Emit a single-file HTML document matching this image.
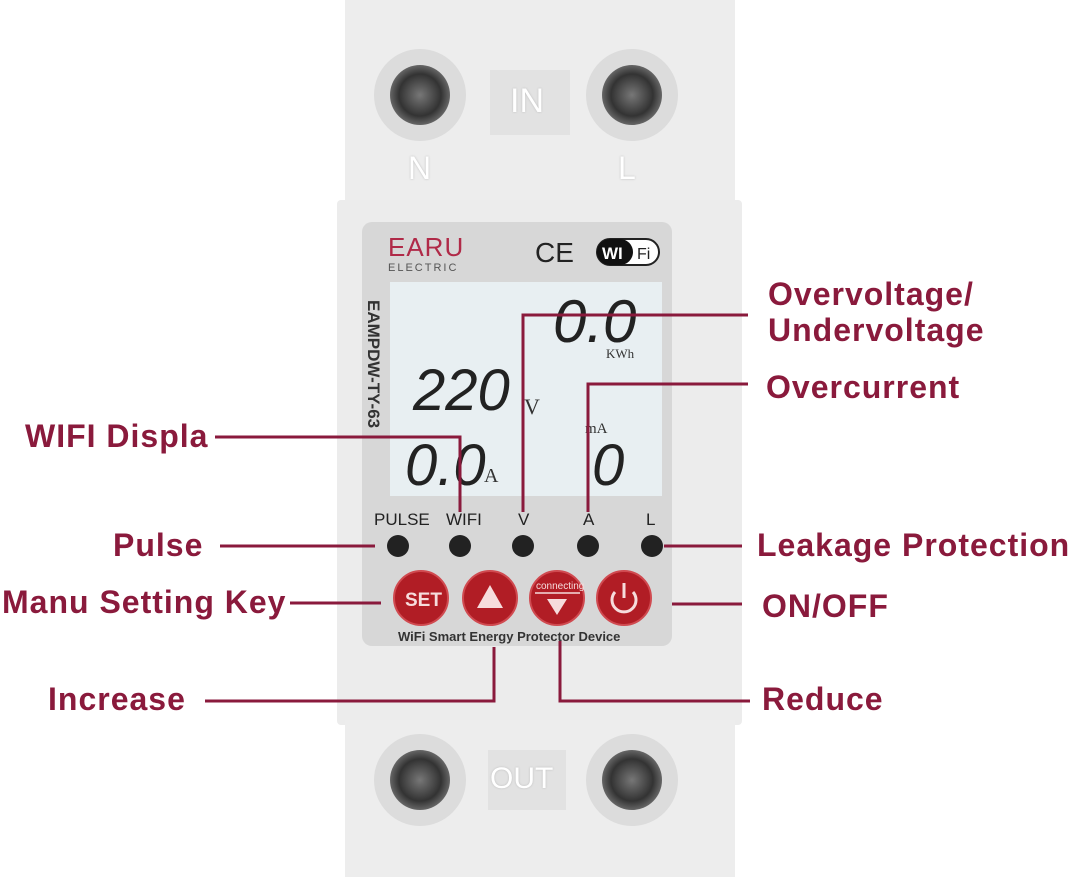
<!DOCTYPE html>
<html><head><meta charset="utf-8"><style>
body{margin:0;width:1080px;height:877px;background:#fff;position:relative;overflow:hidden;font-family:"Liberation Sans",sans-serif}
.a{position:absolute}
.lbl{position:absolute;color:#8a1a3c;font-size:32px;font-weight:bold;letter-spacing:1px;white-space:nowrap}
</style></head><body>
<div class="a" style="left:345px;top:0;width:390px;height:205px;background:#ededed"></div>
<div class="a" style="left:337px;top:200px;width:405px;height:525px;background:#ececec;border-radius:4px"></div>
<div class="a" style="left:345px;top:720px;width:390px;height:157px;background:#ededed"></div>
<div class="a" style="left:490px;top:70px;width:80px;height:65px;background:#e2e2e2"></div>
<div class="a" style="left:510px;top:82px;color:#fff;font-size:34px;text-shadow:0 0 2px #bbb">IN</div>
<div class="a" style="left:408px;top:150px;color:#fff;font-size:32px;text-shadow:0 0 2px #bbb">N</div>
<div class="a" style="left:618px;top:150px;color:#fff;font-size:32px;text-shadow:0 0 2px #bbb">L</div>
<div class="a" style="left:488px;top:750px;width:78px;height:60px;background:#e2e2e2"></div>
<div class="a" style="left:490px;top:762px;color:#fff;font-size:30px;text-shadow:0 0 2px #bbb">OUT</div>
<svg class="a" style="left:0;top:0" width="1080" height="877">
<defs><radialGradient id="sc"><stop offset="0" stop-color="#777"/><stop offset="0.7" stop-color="#333"/><stop offset="1" stop-color="#666"/></radialGradient></defs>
<g>
<circle cx="420" cy="95" r="46" fill="#dcdcdc"/><circle cx="420" cy="95" r="30" fill="url(#sc)"/>
<circle cx="632" cy="95" r="46" fill="#dcdcdc"/><circle cx="632" cy="95" r="30" fill="url(#sc)"/>
<circle cx="420" cy="780" r="46" fill="#dcdcdc"/><circle cx="420" cy="780" r="30" fill="url(#sc)"/>
<circle cx="632" cy="780" r="46" fill="#dcdcdc"/><circle cx="632" cy="780" r="30" fill="url(#sc)"/>
</g>
<rect x="362" y="222" width="310" height="424" rx="10" fill="#d7d7d7"/>
<rect x="390" y="282" width="272" height="214" fill="#e8eff2"/>
<text x="388" y="256" font-size="26" fill="#b02a48" font-family="Liberation Sans" letter-spacing="1">EARU</text>
<text x="388" y="271" font-size="11" fill="#555" font-family="Liberation Sans" letter-spacing="2">ELECTRIC</text>
<text x="535" y="262" font-size="28" fill="#222" font-family="Liberation Sans">CE</text>
<rect x="597" y="239" width="62" height="26" rx="13" fill="#fff" stroke="#222" stroke-width="2"/>
<rect x="597" y="239" width="36" height="26" rx="13" fill="#111"/>
<text x="602" y="259" font-size="17" font-weight="bold" fill="#fff" font-family="Liberation Sans">WI</text>
<text x="637" y="259" font-size="16" fill="#222" font-family="Liberation Sans">Fi</text>
<text transform="translate(368,300) rotate(90)" font-size="17" font-weight="bold" fill="#333" font-family="Liberation Sans">EAMPDW-TY-63</text>
<text x="553" y="342" font-size="60" font-style="italic" fill="#222" font-family="Liberation Sans">0.0</text>
<text x="606" y="358" font-size="13" fill="#333" font-family="Liberation Serif">KWh</text>
<text x="413" y="410" font-size="58" font-style="italic" fill="#222" font-family="Liberation Sans">220</text>
<text x="524" y="414" font-size="22" fill="#333" font-family="Liberation Serif">V</text>
<text x="405" y="485" font-size="58" font-style="italic" fill="#222" font-family="Liberation Sans">0.0</text>
<text x="484" y="482" font-size="20" fill="#333" font-family="Liberation Serif">A</text>
<text x="585" y="433" font-size="15" fill="#333" font-family="Liberation Serif">mA</text>
<text x="592" y="485" font-size="58" font-style="italic" fill="#222" font-family="Liberation Sans">0</text>
<g font-family="Liberation Sans" font-size="17" fill="#222">
<text x="374" y="525">PULSE</text><text x="446" y="525">WIFI</text><text x="518" y="525">V</text><text x="583" y="525">A</text><text x="646" y="525">L</text>
</g>
<g fill="#222"><circle cx="398" cy="546" r="11"/><circle cx="460" cy="546" r="11"/><circle cx="523" cy="546" r="11"/><circle cx="588" cy="546" r="11"/><circle cx="652" cy="546" r="11"/></g>
<g fill="#b11d25" stroke="#d04a50" stroke-width="2">
<circle cx="421" cy="598" r="27"/><circle cx="490" cy="598" r="27"/><circle cx="557" cy="598" r="27"/><circle cx="624" cy="598" r="27"/></g>
<text x="405" y="606" font-size="19" font-weight="bold" fill="#f6dcdc" font-family="Liberation Sans">SET</text>
<polygon points="490,585 503,608 477,608" fill="#f6dcdc"/>
<text x="536" y="589" font-size="10" fill="#f6dcdc" font-family="Liberation Sans">connecting</text>
<line x1="535" y1="593" x2="580" y2="593" stroke="#f6dcdc" stroke-width="1.5"/>
<polygon points="547,599 567,599 557,615" fill="#f6dcdc"/>
<path d="M615,592 A12,12 0 1 0 633,592" fill="none" stroke="#f6dcdc" stroke-width="3"/>
<line x1="624" y1="583" x2="624" y2="598" stroke="#f6dcdc" stroke-width="3"/>
<text x="398" y="641" font-size="13" font-weight="bold" fill="#333" font-family="Liberation Sans">WiFi Smart Energy Protector Device</text>
<g stroke="#8a1a3c" stroke-width="3" fill="none">
<polyline points="748,315 523,315 523,512"/>
<polyline points="748,384 588,384 588,512"/>
<polyline points="215,437 460,437 460,512"/>
<line x1="220" y1="546" x2="375" y2="546"/>
<line x1="664" y1="546" x2="742" y2="546"/>
<line x1="290" y1="603" x2="381" y2="603"/>
<line x1="672" y1="604" x2="742" y2="604"/>
<polyline points="205,701 494,701 494,647"/>
<polyline points="560,641 560,701 750,701"/>
</g>
</svg>
<div class="lbl" style="left:768px;top:276px">Overvoltage/</div>
<div class="lbl" style="left:768px;top:312px">Undervoltage</div>
<div class="lbl" style="left:766px;top:369px">Overcurrent</div>
<div class="lbl" style="left:25px;top:418px">WIFI Displa</div>
<div class="lbl" style="left:113px;top:527px">Pulse</div>
<div class="lbl" style="left:757px;top:527px">Leakage Protection</div>
<div class="lbl" style="left:2px;top:584px">Manu Setting Key</div>
<div class="lbl" style="left:762px;top:588px">ON/OFF</div>
<div class="lbl" style="left:48px;top:681px">Increase</div>
<div class="lbl" style="left:762px;top:681px">Reduce</div>
</body></html>
